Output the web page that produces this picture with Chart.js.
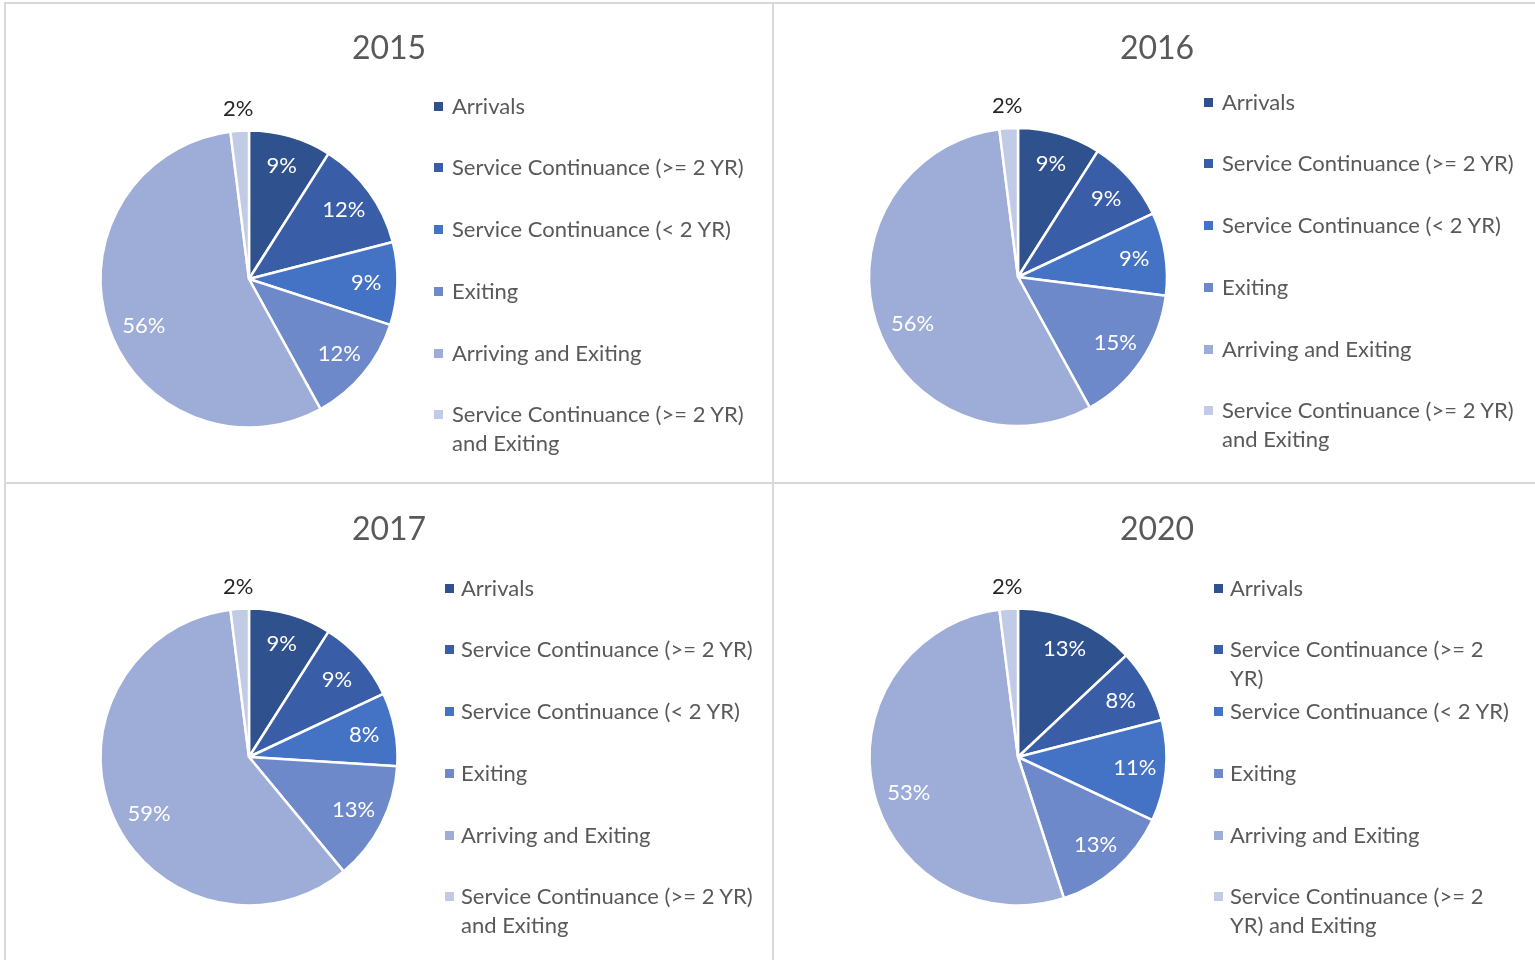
<!DOCTYPE html>
<html>
<head>
<meta charset="utf-8">
<script src="https://cdn.jsdelivr.net/npm/chart.js@4.4.1/dist/chart.umd.min.js"></script>
<style>
  html, body { margin: 0; padding: 0; background: #fff; }
  #page { position: relative; width: 1535px; height: 960px; overflow: hidden; font-family: Lato, "Open Sans", sans-serif; }
  .rule { position: absolute; background: #d9d9d9; }
  .panel canvas { position: absolute; }
  .title { position: absolute; font-size: 32px; line-height: 40px; color: #595959; text-align: center; white-space: nowrap; }
  .legend { position: absolute; font-size: 22px; line-height: 29px; color: #595959; }
  .legend .row { display: flex; align-items: flex-start; height: 61.8px; }
  .legend .sw { flex: none; width: 9px; height: 9px; margin-top: 11px; }
  .legend .txt { display: block; }
</style>
</head>
<body>
<div id="page"></div>
<script>
// categories (legend order = slice order, clockwise from 12 o'clock)
var categories = [
  'Arrivals',
  'Service Continuance (>= 2 YR)',
  'Service Continuance (< 2 YR)',
  'Exiting',
  'Arriving and Exiting',
  'Service Continuance (>= 2 YR) and Exiting'
];
var years = ['2015', '2016', '2017', '2020'];
// share of each category, in percent
var share2015 = [9, 12, 9, 12, 56, 2];
var share2016 = [9, 9, 9, 15, 56, 2];
var share2017 = [9, 9, 8, 13, 59, 2];
var share2020 = [13, 8, 11, 13, 53, 2];
var sliceColors = ['#2F528F', '#3A5DA7', '#4472C4', '#6E89C9', '#9EADD7', '#C1CBE6'];

var shares = [share2015, share2016, share2017, share2020];

// where each panel sits on the page
var panels = [
  { x: 6,   y: 4,   w: 766, h: 478, titleX: 389,  titleY: 47,  cx: 249,  cy: 279, r: 148.5, boxX: 434,  textX: 452,  legendY: 105, wrapRef: 'Service Continuance (>= 2 YR)' },
  { x: 775, y: 4,   w: 760, h: 478, titleX: 1157, titleY: 47,  cx: 1018, cy: 277, r: 149,   boxX: 1204, textX: 1222, legendY: 101, wrapRef: 'Service Continuance (>= 2 YR)' },
  { x: 6,   y: 485, w: 766, h: 475, titleX: 389,  titleY: 528, cx: 249,  cy: 757, r: 148.5, boxX: 445,  textX: 461,  legendY: 587, wrapRef: 'Service Continuance (>= 2 YR)' },
  { x: 775, y: 485, w: 760, h: 475, titleX: 1157, titleY: 528, cx: 1018, cy: 757, r: 148.5, boxX: 1214, textX: 1230, legendY: 587, wrapRef: 'Service Continuance (< 2 YR)' }
];

var page = document.getElementById('page');

// grey frame lines between the four charts
[[4, 2, 1531, 2], [4, 482, 1531, 2], [4, 2, 2, 958], [772, 2, 2, 958]].forEach(function (r) {
  var d = document.createElement('div');
  d.className = 'rule';
  d.style.left = r[0] + 'px'; d.style.top = r[1] + 'px';
  d.style.width = r[2] + 'px'; d.style.height = r[3] + 'px';
  page.appendChild(d);
});

var measureCtx = document.createElement('canvas').getContext('2d');
measureCtx.font = '22px Lato, "Open Sans", sans-serif';

// percentage labels on / next to the slices
var pctLabels = {
  id: 'pctLabels',
  afterDatasetsDraw: function (chart) {
    var ctx = chart.ctx;
    var vals = chart.data.datasets[0].data;
    ctx.save();
    ctx.font = '22px Lato, "Open Sans", sans-serif';
    ctx.textAlign = 'center';
    ctx.textBaseline = 'middle';
    chart.getDatasetMeta(0).data.forEach(function (arc, i) {
      var p = arc.getProps(['x', 'y', 'startAngle', 'endAngle', 'outerRadius'], true);
      var span = p.endAngle - p.startAngle;
      // excel's best fit nudges the label of the big slice a little towards its start
      var mid = p.startAngle + span * (span > Math.PI ? 0.47 : 0.5);
      var small = vals[i] < 5;
      var rr = small ? p.outerRadius + 22 : p.outerRadius * (span > Math.PI ? 0.775 : 0.79);
      ctx.fillStyle = small ? '#262626' : '#ffffff';
      ctx.fillText(vals[i] + '%', p.x + Math.cos(mid) * rr, p.y + Math.sin(mid) * rr);
    });
    ctx.restore();
  }
};

panels.forEach(function (pn, k) {
  var wrap = document.createElement('div');
  wrap.className = 'panel';
  page.appendChild(wrap);

  var cv = document.createElement('canvas');
  cv.width = pn.w; cv.height = pn.h;
  cv.style.left = pn.x + 'px'; cv.style.top = pn.y + 'px';
  cv.style.width = pn.w + 'px'; cv.style.height = pn.h + 'px';
  wrap.appendChild(cv);

  // chart area is a 340px square centred on the pie
  var relX = pn.cx - pn.x, relY = pn.cy - pn.y, half = 170;

  new Chart(cv, {
    type: 'pie',
    data: {
      labels: categories,
      datasets: [{
        data: shares[k],
        backgroundColor: sliceColors,
        borderColor: '#ffffff',
        borderWidth: 2.5,
        radius: pn.r
      }]
    },
    options: {
      responsive: false,
      animation: false,
      layout: {
        padding: { left: relX - half, right: pn.w - relX - half, top: relY - half, bottom: pn.h - relY - half }
      },
      plugins: {
        legend: { display: false },
        title: { display: false },
        tooltip: { enabled: false }
      }
    },
    plugins: [pctLabels]
  });

  var t = document.createElement('div');
  t.className = 'title';
  t.textContent = years[k];
  t.style.left = (pn.titleX - 100) + 'px';
  t.style.width = '200px';
  t.style.top = (pn.titleY - 20) + 'px';
  wrap.appendChild(t);

  var lg = document.createElement('div');
  lg.className = 'legend';
  lg.style.left = pn.boxX + 'px';
  lg.style.top = (pn.legendY - 14.5) + 'px';
  var maxW = Math.ceil(measureCtx.measureText(pn.wrapRef).width) + 3;
  categories.forEach(function (c, i) {
    var row = document.createElement('div');
    row.className = 'row';
    var sw = document.createElement('span');
    sw.className = 'sw';
    sw.style.background = sliceColors[i];
    sw.style.marginRight = (pn.textX - pn.boxX - 9) + 'px';
    var tx = document.createElement('span');
    tx.className = 'txt';
    tx.style.maxWidth = maxW + 'px';
    tx.textContent = c;
    row.appendChild(sw);
    row.appendChild(tx);
    lg.appendChild(row);
  });
  wrap.appendChild(lg);
});
</script>
</body>
</html>
